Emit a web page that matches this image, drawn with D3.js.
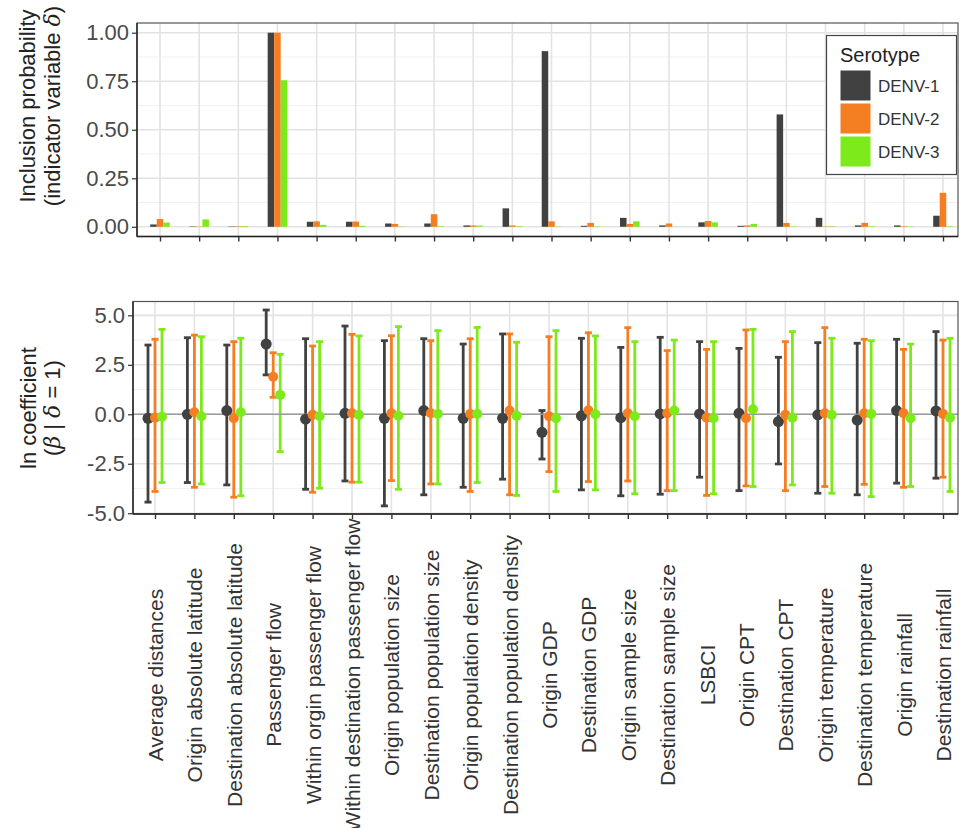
<!DOCTYPE html>
<html>
<head>
<meta charset="utf-8">
<script src="https://cdn.jsdelivr.net/npm/d3@7/dist/d3.min.js"></script>
<style>
  html, body { margin: 0; padding: 0; background: #fff; }
  svg { display: block; font-family: "Liberation Sans", Arial, Helvetica, sans-serif; }
</style>
</head>
<body>
<svg id="chart" width="967" height="828"></svg>
<script>
// ---------------- data ----------------
const categories = [
  "Average distances", "Origin absolute latitude", "Destination absolute latitude",
  "Passenger flow", "Within orgin passenger flow", "Within destination passenger flow",
  "Origin population size", "Destination population size", "Origin population density",
  "Destination population density", "Origin GDP", "Destination GDP", "Origin sample size",
  "Destination sample size", "LSBCI", "Origin CPT", "Destination CPT", "Origin temperature",
  "Destination temperature", "Origin rainfall", "Destination rainfall"
];
const serotypes = ["DENV-1", "DENV-2", "DENV-3"];
const colors = ["#414141", "#F57E22", "#7DEA1C"];

// inclusion probability (indicator variable delta)
const probDENV1 = [0.012, 0.002, 0.002, 1.000, 0.026, 0.026, 0.017, 0.017, 0.007, 0.095, 0.905, 0.005, 0.046, 0.007, 0.023, 0.005, 0.579, 0.046, 0.007, 0.007, 0.057];
const probDENV2 = [0.040, 0.002, 0.003, 1.000, 0.028, 0.027, 0.015, 0.065, 0.007, 0.007, 0.028, 0.020, 0.015, 0.017, 0.030, 0.007, 0.020, 0.002, 0.020, 0.003, 0.175];
const probDENV3 = [0.022, 0.038, 0.004, 0.755, 0.010, 0.005, 0.002, 0.003, 0.006, 0.003, 0.002, 0.002, 0.028, 0.001, 0.023, 0.015, 0.002, 0.003, 0.003, 0.002, 0.003];

// ln coefficient (beta | delta = 1): mean, lower, upper
const meanDENV1 = [-0.20, 0.00, 0.19, 3.55, -0.25, 0.05, -0.20, 0.19, -0.20, -0.20, -0.91, -0.08, -0.17, 0.02, 0.02, 0.05, -0.37, -0.03, -0.29, 0.19, 0.17];
const lowDENV1  = [-4.44, -3.45, -3.57, 1.99, -3.79, -3.37, -4.63, -4.07, -3.69, -3.28, -2.26, -3.82, -4.12, -4.04, -3.18, -3.86, -2.51, -3.99, -4.07, -3.48, -3.23];
const highDENV1 = [3.50, 3.87, 3.50, 5.27, 3.82, 4.46, 3.72, 3.82, 3.55, 4.06, 0.19, 3.84, 3.38, 3.89, 3.67, 3.33, 2.88, 3.62, 3.59, 3.79, 4.18];
const meanDENV2 = [-0.17, 0.10, -0.20, 1.90, -0.03, 0.05, 0.05, 0.05, 0.02, 0.19, -0.10, 0.20, 0.05, 0.05, -0.17, -0.20, -0.03, 0.05, 0.05, 0.05, 0.02];
const lowDENV2  = [-3.90, -3.69, -4.19, 0.86, -3.94, -3.43, -3.35, -3.52, -3.90, -4.07, -2.90, -3.40, -3.37, -3.86, -4.10, -3.62, -3.86, -3.65, -3.54, -3.69, -3.18];
const highDENV2 = [3.79, 4.00, 3.67, 3.11, 3.45, 4.04, 3.97, 3.72, 3.82, 4.06, 3.92, 4.12, 4.38, 3.22, 3.28, 4.26, 3.67, 4.38, 3.79, 3.28, 3.75];
const meanDENV3 = [-0.12, -0.10, 0.10, 0.98, -0.10, -0.03, -0.07, 0.02, 0.02, -0.08, -0.20, 0.00, -0.10, 0.19, -0.20, 0.25, -0.17, -0.03, 0.02, -0.20, -0.17];
const lowDENV3  = [-3.45, -3.52, -4.12, -1.89, -3.74, -3.43, -3.79, -3.52, -3.45, -4.10, -3.90, -3.82, -4.02, -3.86, -4.02, -3.65, -3.57, -3.99, -4.16, -3.65, -3.90];
const highDENV3 = [4.29, 3.92, 3.84, 3.03, 3.67, 3.96, 4.43, 4.23, 4.39, 3.64, 4.23, 3.96, 3.67, 3.75, 3.67, 4.29, 4.18, 3.84, 3.72, 3.55, 3.84];

const probTicks = [0, 0.25, 0.5, 0.75, 1.0];
const probMinor = [0.125, 0.375, 0.625, 0.875];
const coefTicks = [-5, -2.5, 0, 2.5, 5];
const coefMinor = [-3.75, -1.25, 1.25, 3.75];

// ---------------- build tables ----------------
const probs = [probDENV1, probDENV2, probDENV3];
const means = [meanDENV1, meanDENV2, meanDENV3];
const lows = [lowDENV1, lowDENV2, lowDENV3];
const highs = [highDENV1, highDENV2, highDENV3];

const barData = [];
const coefData = [];
categories.forEach((c, i) => {
  serotypes.forEach((s, k) => {
    barData.push({cat: c, sero: s, k: k, v: probs[k][i]});
    coefData.push({cat: c, sero: s, k: k, m: means[k][i], lo: lows[k][i], hi: highs[k][i]});
  });
});

const svg = d3.select("#chart");
const FONT = "Liberation Sans, Arial, sans-serif";
const gridMajor = "#e3e3e3", gridMinor = "#f1f1f1";

// ---------------- top panel ----------------
const topP = {x0: 137, x1: 958, y0: 23, y1: 236.5};
const xTop = d3.scaleBand().domain(categories).range([160 - 19.575, 943 + 19.575]).padding(0);
const xTopC = c => xTop(c) + xTop.bandwidth() / 2;
const yTop = d3.scaleLinear().domain([-0.05, 1.05]).range([topP.y1, topP.y0]);
const sub = d3.scaleBand().domain([0, 1, 2]).range([-xTop.bandwidth() * 0.25, xTop.bandwidth() * 0.25]);

const gT = svg.append("g");
gT.append("rect").attr("x", topP.x0).attr("y", topP.y0).attr("width", topP.x1 - topP.x0).attr("height", topP.y1 - topP.y0).attr("fill", "#fff");
gT.selectAll("line.minor").data(probMinor).join("line")
  .attr("x1", topP.x0).attr("x2", topP.x1).attr("y1", d => yTop(d)).attr("y2", d => yTop(d))
  .attr("stroke", gridMinor).attr("stroke-width", 1);
gT.selectAll("line.major").data(probTicks).join("line")
  .attr("x1", topP.x0).attr("x2", topP.x1).attr("y1", d => yTop(d)).attr("y2", d => yTop(d))
  .attr("stroke", gridMajor).attr("stroke-width", 1.6);
gT.selectAll("line.vmajor").data(categories).join("line")
  .attr("x1", d => xTopC(d)).attr("x2", d => xTopC(d)).attr("y1", topP.y0).attr("y2", topP.y1)
  .attr("stroke", gridMajor).attr("stroke-width", 1.6);

gT.selectAll("rect.bar").data(barData).join("rect")
  .attr("x", d => xTopC(d.cat) + sub(d.k))
  .attr("width", sub.bandwidth())
  .attr("y", d => yTop(d.v))
  .attr("height", d => yTop(0) - yTop(d.v))
  .attr("fill", d => colors[d.k]);

gT.append("rect").attr("x", topP.x0).attr("y", topP.y0).attr("width", topP.x1 - topP.x0).attr("height", topP.y1 - topP.y0)
  .attr("fill", "none").attr("stroke", "#555").attr("stroke-width", 1.2);
gT.append("line").attr("x1", topP.x0).attr("x2", topP.x1).attr("y1", topP.y1).attr("y2", topP.y1).attr("stroke", "#222").attr("stroke-width", 1.4);
gT.append("line").attr("x1", topP.x0).attr("x2", topP.x0).attr("y1", topP.y0).attr("y2", topP.y1).attr("stroke", "#222").attr("stroke-width", 1.4);

// axes
const yAxisTop = d3.axisLeft(yTop).tickValues(probTicks).tickFormat(d3.format(".2f")).tickSizeOuter(0).tickSize(5).tickPadding(3);
const gyT = svg.append("g").attr("transform", `translate(${topP.x0},0)`).call(yAxisTop);
gyT.select(".domain").remove();
gyT.selectAll("text").attr("font-size", 22).attr("fill", "#4a4a4a").attr("font-family", FONT);
gyT.selectAll("line").attr("stroke", "#333").attr("stroke-width", 1.2);

const xAxisTop = d3.axisBottom(d3.scalePoint().domain(categories).range([160, 943])).tickFormat("").tickSize(5).tickSizeOuter(0);
const gxT = svg.append("g").attr("transform", `translate(0,${topP.y1})`).call(xAxisTop);
gxT.select(".domain").remove();
gxT.selectAll("line").attr("stroke", "#333").attr("stroke-width", 1.4);

// legend
const lg = svg.append("g");
lg.append("rect").attr("x", 826.5).attr("y", 35.5).attr("width", 130).attr("height", 139)
  .attr("fill", "#fff").attr("stroke", "#444").attr("stroke-width", 1.2);
lg.append("text").attr("x", 840).attr("y", 62).text("Serotype")
  .attr("font-size", 20).attr("fill", "#222").attr("font-family", FONT);
serotypes.forEach((s, k) => {
  const yy = 70 + k * 33;
  lg.append("rect").attr("x", 840).attr("y", yy).attr("width", 31).attr("height", 31)
    .attr("fill", colors[k]).attr("stroke", "#fff").attr("stroke-width", 1);
  lg.append("text").attr("x", 878).attr("y", yy + 16).attr("dy", "0.35em").text(s)
    .attr("font-size", 17).attr("fill", "#333").attr("font-family", FONT);
});

// top y title
const tT = svg.append("g").attr("transform", "translate(0,106)");
tT.append("text").attr("transform", "translate(35,0) rotate(-90)").attr("text-anchor", "middle")
  .attr("font-size", 22).attr("fill", "#222").attr("font-family", FONT).text("Inclusion probability");
const t2 = tT.append("text").attr("transform", "translate(60,0) rotate(-90)").attr("text-anchor", "middle")
  .attr("font-size", 22).attr("fill", "#222").attr("font-family", FONT);
t2.append("tspan").text("(indicator variable ");
t2.append("tspan").attr("font-style", "italic").attr("font-family", "DejaVu Serif, serif").text("δ");
t2.append("tspan").text(")");

// ---------------- bottom panel ----------------
const botP = {x0: 133, x1: 958, y0: 301.5, y1: 514};
const xBot = d3.scalePoint().domain(categories).range([155, 943]);
const yBot = d3.scaleLinear().domain([-5.04, 5.70]).range([botP.y1, botP.y0]);
const dodge = d3.scalePoint().domain([0, 1, 2]).range([-7, 7]);

const gB = svg.append("g");
gB.append("rect").attr("x", botP.x0).attr("y", botP.y0).attr("width", botP.x1 - botP.x0).attr("height", botP.y1 - botP.y0).attr("fill", "#fff");
gB.selectAll("line.minor").data(coefMinor).join("line")
  .attr("x1", botP.x0).attr("x2", botP.x1).attr("y1", d => yBot(d)).attr("y2", d => yBot(d))
  .attr("stroke", gridMinor).attr("stroke-width", 1);
gB.selectAll("line.major").data(coefTicks).join("line")
  .attr("x1", botP.x0).attr("x2", botP.x1).attr("y1", d => yBot(d)).attr("y2", d => yBot(d))
  .attr("stroke", gridMajor).attr("stroke-width", 1.6);
gB.selectAll("line.vmajor").data(categories).join("line")
  .attr("x1", d => xBot(d)).attr("x2", d => xBot(d)).attr("y1", botP.y0).attr("y2", botP.y1)
  .attr("stroke", gridMajor).attr("stroke-width", 1.6);

const eb = gB.selectAll("g.eb").data(coefData).join("g");
eb.append("line")
  .attr("x1", d => xBot(d.cat) + dodge(d.k)).attr("x2", d => xBot(d.cat) + dodge(d.k))
  .attr("y1", d => yBot(d.lo)).attr("y2", d => yBot(d.hi))
  .attr("stroke", d => colors[d.k]).attr("stroke-width", 2.8);
eb.append("line")
  .attr("x1", d => xBot(d.cat) + dodge(d.k) - 3.5).attr("x2", d => xBot(d.cat) + dodge(d.k) + 3.5)
  .attr("y1", d => yBot(d.lo)).attr("y2", d => yBot(d.lo))
  .attr("stroke", d => colors[d.k]).attr("stroke-width", 2.8);
eb.append("line")
  .attr("x1", d => xBot(d.cat) + dodge(d.k) - 3.5).attr("x2", d => xBot(d.cat) + dodge(d.k) + 3.5)
  .attr("y1", d => yBot(d.hi)).attr("y2", d => yBot(d.hi))
  .attr("stroke", d => colors[d.k]).attr("stroke-width", 2.8);

gB.append("line").attr("x1", botP.x0).attr("x2", botP.x1).attr("y1", yBot(0)).attr("y2", yBot(0))
  .attr("stroke", "#9a9a9a").attr("stroke-width", 1.6);

gB.selectAll("circle.pt").data(coefData).join("circle")
  .attr("cx", d => xBot(d.cat) + dodge(d.k)).attr("cy", d => yBot(d.m))
  .attr("r", d => d.k === 0 ? 5.5 : 5).attr("fill", d => colors[d.k]);

gB.append("rect").attr("x", botP.x0).attr("y", botP.y0).attr("width", botP.x1 - botP.x0).attr("height", botP.y1 - botP.y0)
  .attr("fill", "none").attr("stroke", "#555").attr("stroke-width", 1.2);
gB.append("line").attr("x1", botP.x0).attr("x2", botP.x1).attr("y1", botP.y1).attr("y2", botP.y1).attr("stroke", "#222").attr("stroke-width", 1.4);
gB.append("line").attr("x1", botP.x0).attr("x2", botP.x0).attr("y1", botP.y0).attr("y2", botP.y1).attr("stroke", "#222").attr("stroke-width", 1.4);

const yAxisBot = d3.axisLeft(yBot).tickValues(coefTicks).tickFormat(d3.format(".1f")).tickSizeOuter(0).tickSize(5).tickPadding(3);
const gyB = svg.append("g").attr("transform", `translate(${botP.x0},0)`).call(yAxisBot);
gyB.select(".domain").remove();
gyB.selectAll("text").attr("font-size", 22).attr("fill", "#4a4a4a").attr("font-family", FONT)
  .text(d => d3.format(".1f")(d).replace("−", "-"));
gyB.selectAll("line").attr("stroke", "#333").attr("stroke-width", 1.2);

const xAxisBot = d3.axisBottom(xBot).tickSize(5).tickSizeOuter(0);
const gxB = svg.append("g").attr("transform", `translate(0,${botP.y1})`).call(xAxisBot);
gxB.select(".domain").remove();
gxB.selectAll("line").attr("stroke", "#333").attr("stroke-width", 1.4);
gxB.selectAll("text")
  .attr("font-size", 21).attr("fill", "#333").attr("font-family", FONT)
  .attr("text-anchor", "middle").attr("dy", null)
  .attr("transform", d => `translate(0,${675 - botP.y1}) rotate(-90)`)
  .attr("x", 0).attr("y", 0).attr("dominant-baseline", "central");

// bottom y title
const tB = svg.append("g").attr("transform", "translate(0,408)");
tB.append("text").attr("transform", "translate(36,0) rotate(-90)").attr("text-anchor", "middle")
  .attr("font-size", 22).attr("fill", "#222").attr("font-family", FONT).text("ln coefficient");
const b2 = tB.append("text").attr("transform", "translate(60,0) rotate(-90)").attr("text-anchor", "middle")
  .attr("font-size", 22).attr("fill", "#222").attr("font-family", FONT);
b2.append("tspan").text("(");
b2.append("tspan").attr("font-style", "italic").attr("font-family", "DejaVu Serif, serif").text("β");
b2.append("tspan").text(" | ");
b2.append("tspan").attr("font-style", "italic").attr("font-family", "DejaVu Serif, serif").text("δ");
b2.append("tspan").text(" = 1)");
</script>
</body>
</html>
